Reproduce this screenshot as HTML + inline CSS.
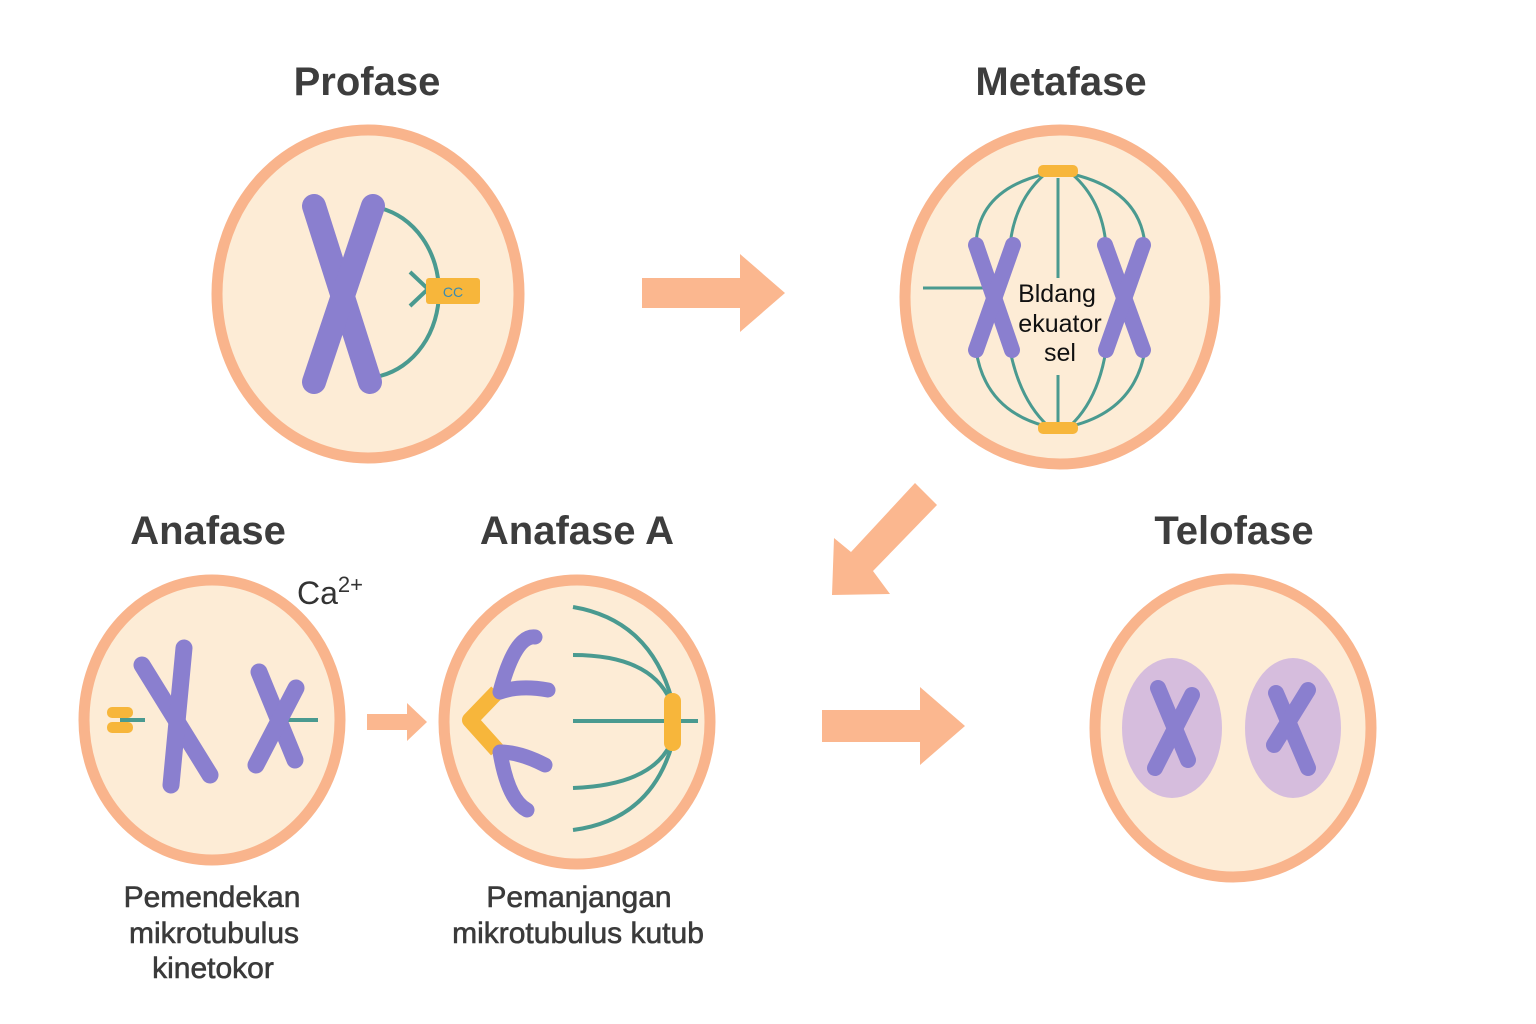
<!DOCTYPE html>
<html><head><style>body{margin:0;background:#fff}svg{display:block}</style></head><body>
<svg width="1536" height="1024" viewBox="0 0 1536 1024" xmlns="http://www.w3.org/2000/svg" font-family="Liberation Sans, sans-serif">
<g fill="#fdecd6" stroke="#f9b48c" stroke-width="11">
<ellipse cx="368" cy="294" rx="151" ry="164"/>
<ellipse cx="1060" cy="297" rx="155" ry="167"/>
<ellipse cx="212" cy="720" rx="128" ry="140"/>
<ellipse cx="577" cy="722" rx="133" ry="142"/>
<ellipse cx="1233" cy="728" rx="138" ry="149"/>
</g>
<g fill="#fbb78f">
<path d="M642,278 H740 V254 L785,293 L740,332 V308 H642Z"/>
<path d="M367,714 H407 V703 L427,722 L407,741 V730 H367Z"/>
<path d="M822,710 H920 V687 L965,726 L920,765 V742 H822Z"/>
<path d="M915,483 L937,505 L873,571 L890,594 L832,595 L834,538 L851,552Z"/>
</g>
<g fill="#3d3d3d" font-weight="bold" font-size="40" text-anchor="middle">
<text x="367" y="95">Profase</text>
<text x="1061" y="95">Metafase</text>
<text x="208" y="544">Anafase</text>
<text x="577" y="544">Anafase A</text>
<text x="1234" y="544">Telofase</text>
</g>
<text x="297" y="604" font-size="32" fill="#333">Ca<tspan font-size="22" dy="-12">2+</tspan></text>
<g fill="#3a3a3a" font-size="30" text-anchor="middle" stroke="#3a3a3a" stroke-width="0.6">
<text x="212" y="907">Pemendekan</text><text x="214" y="943">mikrotubulus</text><text x="213" y="978">kinetokor</text>
<text x="579" y="907">Pemanjangan</text><text x="578" y="943">mikrotubulus kutub</text>
</g>
<!-- Profase -->
<path d="M380,208 A75,86 0 0 1 380,376" fill="none" stroke="#4a9a90" stroke-width="4"/>
<path d="M410,272 L428,289 L410,306" fill="none" stroke="#4a9a90" stroke-width="4"/>
<rect x="426" y="278" width="54" height="26" rx="3" fill="#f7b63b"/>
<text x="453" y="297" font-size="14" fill="#3a8bb0" text-anchor="middle">CC</text>
<g stroke="#8a7fcf" stroke-width="24" stroke-linecap="round">
<line x1="314" y1="206" x2="370" y2="382"/><line x1="373" y1="206" x2="314" y2="382"/>
</g>
<!-- Metafase -->
<g fill="none" stroke="#4a9a90" stroke-width="3">
<path d="M1045,174 Q978,190 976,245"/><path d="M976,350 Q985,410 1045,426"/>
<path d="M1045,174 Q1015,200 1010,245"/><path d="M1010,350 Q1020,400 1048,426"/>
<path d="M1072,174 Q1140,190 1145,245"/><path d="M1145,350 Q1135,410 1072,426"/>
<path d="M1072,174 Q1102,200 1106,245"/><path d="M1106,350 Q1098,400 1070,426"/>
<line x1="1058" y1="178" x2="1058" y2="278"/><line x1="1058" y1="375" x2="1058" y2="422"/>
<line x1="923" y1="288" x2="985" y2="288"/>
</g>
<rect x="1038" y="165" width="40" height="12" rx="5" fill="#f7b63b"/>
<rect x="1038" y="422" width="40" height="12" rx="5" fill="#f7b63b"/>
<g stroke="#8a7fcf" stroke-width="16" stroke-linecap="round">
<line x1="976" y1="245" x2="1012" y2="350"/><line x1="1013" y1="245" x2="976" y2="350"/>
<line x1="1105" y1="245" x2="1143" y2="350"/><line x1="1143" y1="245" x2="1106" y2="350"/>
</g>
<g font-size="25" fill="#111" text-anchor="middle">
<text x="1057" y="302">Bldang</text><text x="1060" y="332">ekuator</text><text x="1060" y="361">sel</text>
</g>
<!-- Anafase -->
<rect x="107" y="707" width="26" height="11" rx="5" fill="#f7b63b"/>
<rect x="107" y="722" width="26" height="11" rx="5" fill="#f7b63b"/>
<line x1="120" y1="720" x2="145" y2="720" stroke="#4a9a90" stroke-width="4"/>
<line x1="285" y1="720" x2="318" y2="720" stroke="#4a9a90" stroke-width="4"/>
<g stroke="#8a7fcf" stroke-width="17" stroke-linecap="round">
<line x1="142" y1="665" x2="210" y2="775"/><line x1="184" y1="648" x2="171" y2="785"/>
<line x1="259" y1="672" x2="295" y2="760"/><line x1="296" y1="688" x2="256" y2="765"/>
</g>
<!-- Anafase A -->
<g fill="none" stroke="#4a9a90" stroke-width="4">
<path d="M573,607 Q650,620 672,700"/><path d="M573,655 Q650,655 670,700"/>
<path d="M573,788 Q650,785 670,745"/><path d="M573,830 Q650,820 672,745"/>
<line x1="573" y1="721" x2="698" y2="721"/>
<line x1="467" y1="720" x2="500" y2="690"/>
</g>
<rect x="664" y="693" width="17" height="58" rx="8" fill="#f7b63b"/>
<path d="M497,692 L470,720 L497,750" fill="none" stroke="#f7b63b" stroke-width="16" stroke-linejoin="round"/>
<g fill="none" stroke="#8a7fcf" stroke-width="15" stroke-linecap="round" stroke-linejoin="round">
<path d="M535,637 Q515,635 500,692 Q520,685 548,690"/>
<path d="M545,765 Q520,752 500,752 Q508,800 527,810"/>
</g>
<!-- Telofase -->
<ellipse cx="1172" cy="728" rx="50" ry="70" fill="#d6bddd"/>
<ellipse cx="1293" cy="728" rx="48" ry="70" fill="#d6bddd"/>
<g stroke="#8a7fcf" stroke-width="16" stroke-linecap="round">
<line x1="1158" y1="688" x2="1188" y2="760"/><line x1="1192" y1="695" x2="1155" y2="768"/>
<line x1="1276" y1="693" x2="1308" y2="768"/><line x1="1308" y1="690" x2="1274" y2="745"/>
</g>
</svg>
</body></html>
